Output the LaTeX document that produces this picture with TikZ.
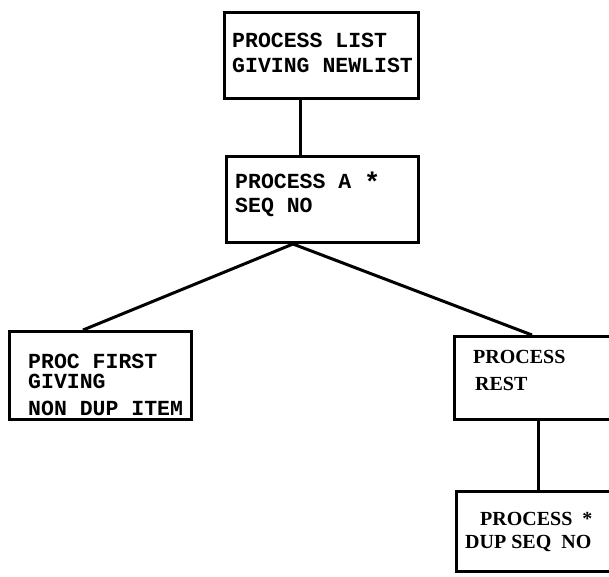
\documentclass[tikz,border=0pt]{standalone}
\usepackage{fontspec}
\newfontfamily\twfont{Liberation Mono}
\newfontfamily\srfont{Liberation Serif}
\newcommand{\bigstar}{{\fontsize{27}{27}\selectfont\raisebox{-3pt}{*}}}
\begin{document}
\begin{tikzpicture}[x=1pt,y=-1pt,
 box/.style={draw=black, line width=3pt, rectangle, inner sep=0pt, anchor=north west},
 tt/.style={anchor=base west, inner sep=0pt, font=\twfont\bfseries\fontsize{21.5}{26}\selectfont},
 st/.style={anchor=base west, inner sep=0pt, font=\srfont\bfseries\fontsize{20}{24}\selectfont},
 link/.style={line width=3pt}]
\clip (0,0) rectangle (609,576);
\fill[white] (0,0) rectangle (609,576);
% boxes
\node[box, minimum width=194pt, minimum height=86pt] (b1) at (223,11) {};
\node[box, minimum width=192pt, minimum height=86pt] (b2) at (225,155) {};
\node[box, minimum width=182pt, minimum height=88pt] (b3) at (8,330) {};
\node[box, minimum width=170pt, minimum height=83pt] (b4) at (453,335) {};
\node[box, minimum width=170pt, minimum height=80pt] (b5) at (455,490) {};
% texts
\node[tt] (t1a) at (232,47) {PROCESS LIST};
\node[tt] (t1b) at (232,72) {GIVING NEWLIST};
\node[tt] (t2a) at (235,188) {PROCESS A \bigstar};
\node[tt] (t2b) at (235,212) {SEQ NO};
\node[tt] (t3a) at (28,368) {PROC FIRST};
\node[tt] (t3b) at (28,388) {GIVING};
\node[tt] (t3c) at (28,415) {NON DUP ITEM};
\node[st] (t4a) at (473,363) {PROCESS};
\node[st] (t4b) at (475,390) {REST};
\node[st] (t5a) at (480,525) {PROCESS\ \ *};
\node[st] (t5b) at (465,548) {DUP\ SEQ\ \ NO};
% connectors
\draw[link] ([xshift=77pt]b1.south west) -- ([xshift=75pt]b2.north west);
\draw[link] ([xshift=68pt]b2.south west) -- ([xshift=75pt]b3.north west);
\draw[link] ([xshift=68pt]b2.south west) -- ([xshift=79pt]b4.north west);
\draw[link] ([xshift=85pt]b4.south west) -- ([xshift=83pt]b5.north west);
\end{tikzpicture}
\end{document}
